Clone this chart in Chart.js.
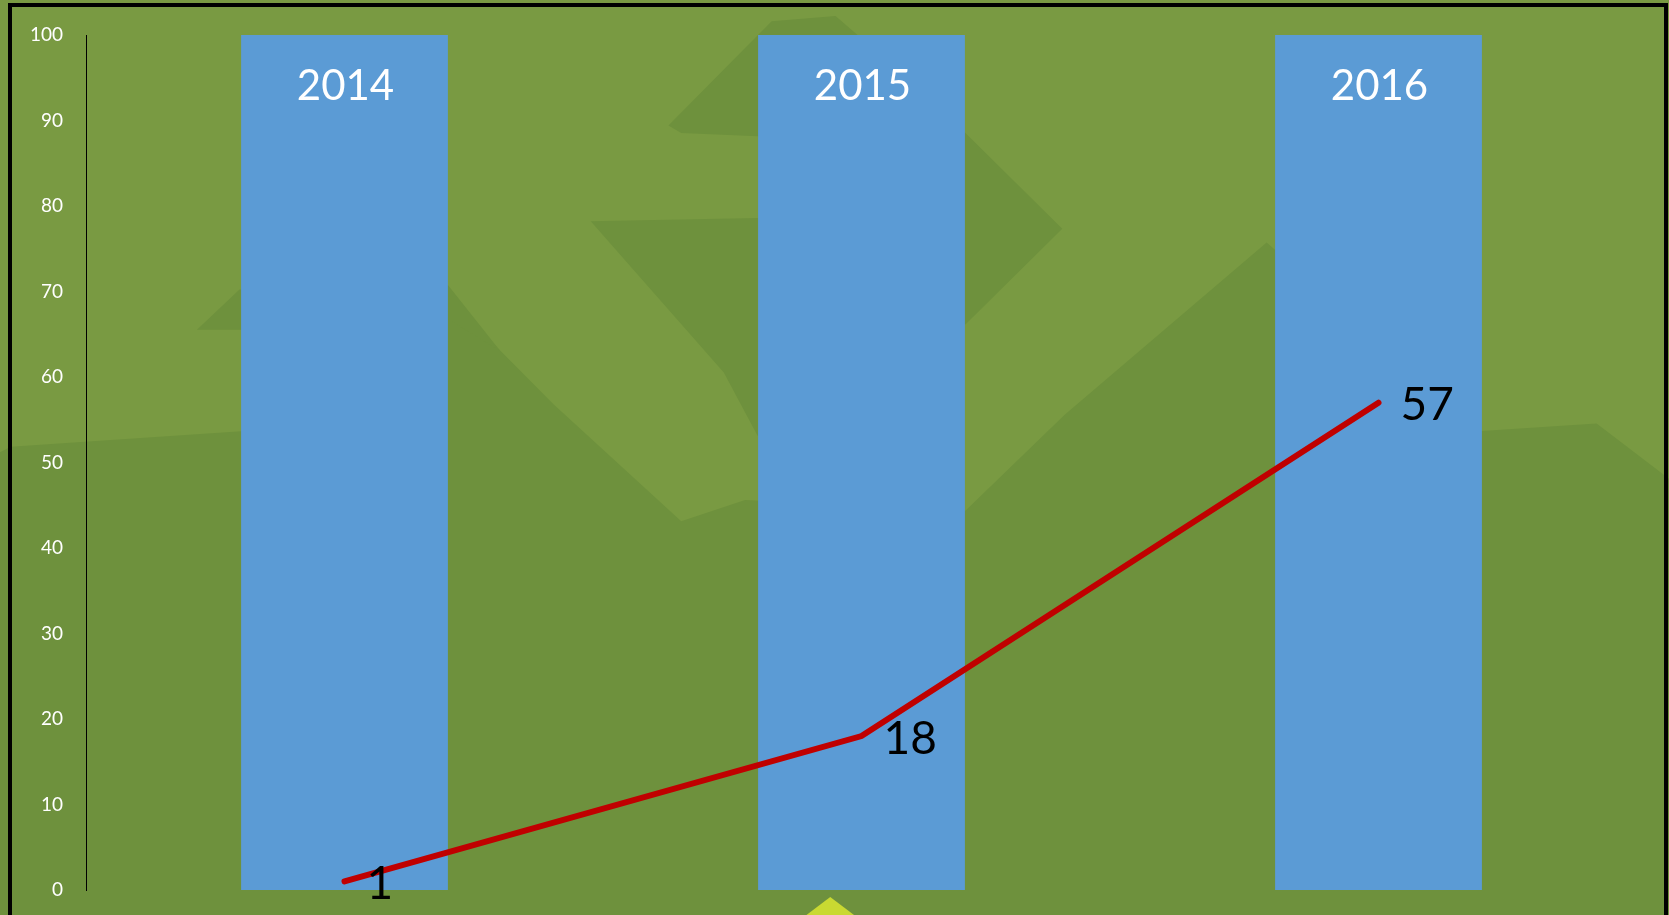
<!DOCTYPE html>
<html>
<head>
<meta charset="utf-8">
<script src="https://cdn.jsdelivr.net/npm/chart.js@4/dist/chart.umd.min.js"></script>
<style>
  html, body { margin: 0; padding: 0; background: #799a42; overflow: hidden; }
  #wrap { width: 1669px; height: 915px; position: relative; }
</style>
</head>
<body>
<div id="wrap"><canvas id="mixChart" width="1669" height="915"></canvas></div>
<script>
// chart data
const years = ['2014', '2015', '2016'];
const barValues = [100, 100, 100];
const lineValues = [1, 18, 57];
const yTicks = [0, 10, 20, 30, 40, 50, 60, 70, 80, 90, 100];

const lightGreen = '#799a42';
const darkGreen = '#6e913d';

// decorative backdrop, in 1568x860 reference units
const backdrop = [
  [[0,425],[10,420],[230,405],[300,340],[421,280],[520,380],[640,490],[700,470],[907,480],[1000,390],[1190,228],[1392,405],[1500,398],[1568,450],[1568,860],[0,860]],
  [[185,310],[225,272],[421,268],[470,330],[421,300],[230,310]],
  [[628,118],[700,45],[725,20],[785,15],[860,80],[907,125],[998,215],[907,305],[800,210],[712,128],[640,125]],
  [[555,208],[712,205],[712,410],[680,350]]
];

const backdropPlugin = {
  id: 'backdrop',
  beforeDraw(chart) {
    const ctx = chart.ctx;
    const sx = chart.width / 1568, sy = chart.height / 860;
    ctx.save();
    ctx.fillStyle = lightGreen;
    ctx.fillRect(0, 0, chart.width, chart.height);
    ctx.fillStyle = darkGreen;
    backdrop.forEach(poly => {
      ctx.beginPath();
      poly.forEach((p, i) => i ? ctx.lineTo(p[0]*sx, p[1]*sy) : ctx.moveTo(p[0]*sx, p[1]*sy));
      ctx.closePath();
      ctx.fill();
    });
    // small yellow arrow tip below the middle bar
    ctx.fillStyle = '#c9d932';
    ctx.beginPath();
    ctx.moveTo(780*sx, 843*sy);
    ctx.lineTo(805*sx, 862*sy);
    ctx.lineTo(755*sx, 862*sy);
    ctx.closePath();
    ctx.fill();
    ctx.restore();
  }
};

const labelPlugin = {
  id: 'labels',
  afterDatasetsDraw(chart) {
    const ctx = chart.ctx;
    ctx.save();
    // year names at the top of each bar
    const bars = chart.getDatasetMeta(1).data;
    ctx.fillStyle = '#ffffff';
    ctx.font = '42px Lato, "Noto Sans", sans-serif';
    ctx.textAlign = 'center';
    ctx.textBaseline = 'middle';
    bars.forEach((b, i) => ctx.fillText(years[i], b.x + 1, b.y + 51));
    // values to the right of the line points
    const pts = chart.getDatasetMeta(0).data;
    ctx.fillStyle = '#000000';
    ctx.font = '46px Lato, "Noto Sans", sans-serif';
    ctx.textAlign = 'left';
    pts.forEach((p, i) => ctx.fillText(String(lineValues[i]), p.x + 22, p.y + 3));
    ctx.restore();
  },
  afterDraw(chart) {
    const ctx = chart.ctx;
    ctx.save();
    ctx.strokeStyle = '#000000';
    ctx.lineWidth = 4;
    ctx.strokeRect(10, 5, 1656, 1000);
    ctx.restore();
  }
};

new Chart(document.getElementById('mixChart').getContext('2d'), {
  data: {
    labels: years,
    datasets: [{
      type: 'line',
      label: 'Value',
      data: lineValues,
      borderColor: '#c00000',
      borderWidth: 6,
      borderCapStyle: 'round',
      pointRadius: 0,
      tension: 0,
      order: 0
    }, {
      type: 'bar',
      label: 'Year',
      data: barValues,
      backgroundColor: '#5b9bd5',
      barPercentage: 0.4,
      categoryPercentage: 1,
      order: 1
    }]
  },
  plugins: [backdropPlugin, labelPlugin],
  options: {
    responsive: false,
    animation: false,
    layout: { padding: { left: 0, right: 32, top: 35, bottom: 25 } },
    plugins: { legend: { display: false }, tooltip: { enabled: false } },
    scales: {
      x: { display: false, offset: true },
      y: {
        min: 0,
        max: 100,
        afterFit(scale) {
          scale.width = 86;
          // tick padding is only meant horizontally here
          scale.paddingTop = 0;
          scale.paddingBottom = 0;
        },
        afterBuildTicks(scale) { scale.ticks = yTicks.map(v => ({ value: v })); },
        grid: { display: false, drawTicks: false },
        border: { display: true, color: '#000000', width: 1 },
        ticks: {
          color: '#ffffff',
          padding: 23,
          font: { family: 'Lato, "Noto Sans", sans-serif', size: 19 }
        }
      }
    }
  }
});
</script>
</body>
</html>
